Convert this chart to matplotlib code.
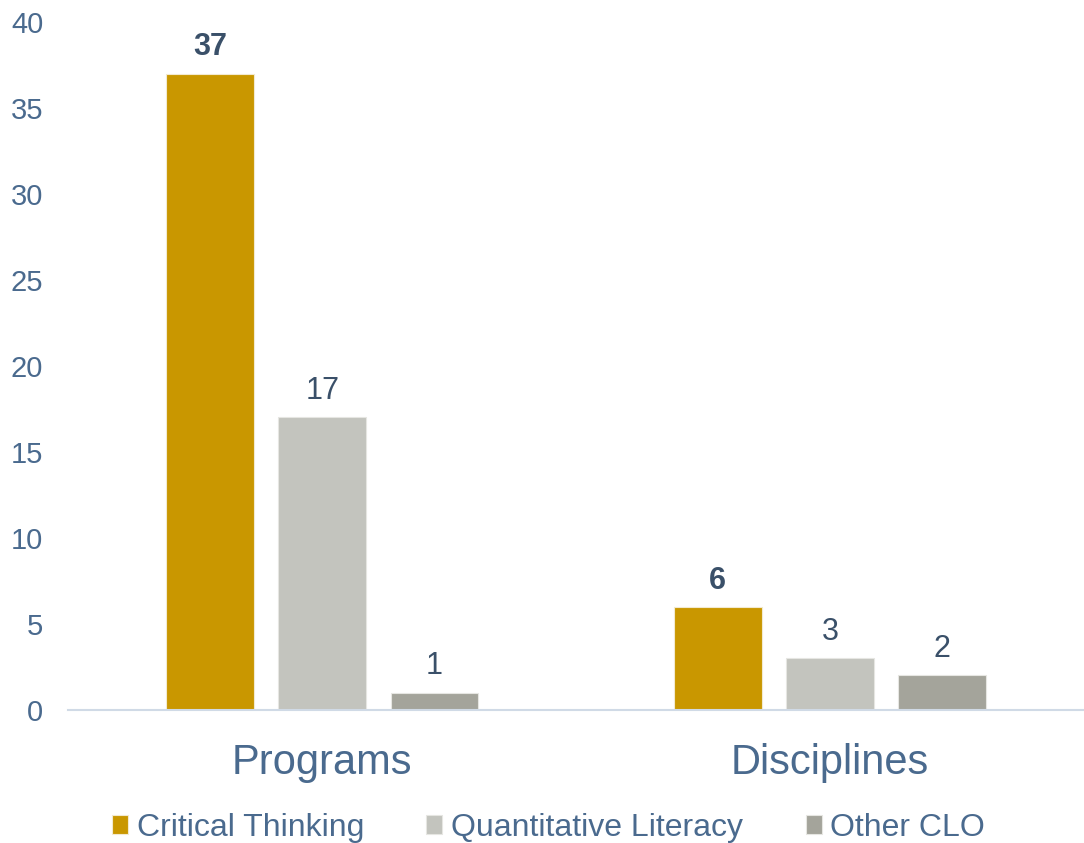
import numpy as np
import matplotlib
matplotlib.use('Agg')
import matplotlib.pyplot as plt

plt.rcParams['font.family'] = ['Liberation Sans', 'DejaVu Sans']

groups = ['Programs', 'Disciplines']
series = ['Critical Thinking', 'Quantitative Literacy', 'Other CLO']
critical = [37, 6]
quant = [17, 3]
other = [1, 2]
colors = ['#C99700', '#C3C4BE', '#A4A49B']

text_col = '#4A6A8E'
label_col = '#3A5069'

fig = plt.figure(figsize=(10.84, 8.43), dpi=100)
ax = fig.add_axes([0.063, 0.158, 0.937, 0.816])

x = np.arange(len(groups))
w = 0.173
step = 0.221
for i, (vals, name) in enumerate(zip([critical, quant, other], series)):
    bars = ax.bar(x + (i - 1) * step, vals, w, color=colors[i], label=name,
                  edgecolor='#F2EAD0' if i == 0 else '#E6E6E2', linewidth=0.8)
    for b, v in zip(bars, vals):
        ax.annotate(str(v), (b.get_x() + b.get_width() / 2, v),
                    xytext=(0, 8), textcoords='offset points',
                    ha='center', va='bottom', fontsize=22, color=label_col,
                    fontweight='bold' if i == 0 else 'normal')

ax.set_xlim(-0.5, 1.5)
ax.set_ylim(0, 40)
ax.set_yticks(range(0, 41, 5))
ax.set_xticks(x)
ax.set_xticklabels(groups)

for s in ['top', 'right', 'left']:
    ax.spines[s].set_visible(False)
ax.spines['bottom'].set_color('#D0DAE6')
ax.spines['bottom'].set_linewidth(1.5)

ax.tick_params(axis='y', length=0, pad=18, labelsize=21, labelcolor=text_col)
ax.tick_params(axis='x', length=0, pad=24, labelsize=30, labelcolor=text_col)

fig.legend(loc='center', bbox_to_anchor=(0.506, 0.018), ncol=3, frameon=False,
           fontsize=23, labelcolor=text_col, handlelength=0.5, handleheight=0.5,
           handletextpad=0.28, columnspacing=1.95, borderaxespad=0)

fig.savefig('out.png', dpi=100)
